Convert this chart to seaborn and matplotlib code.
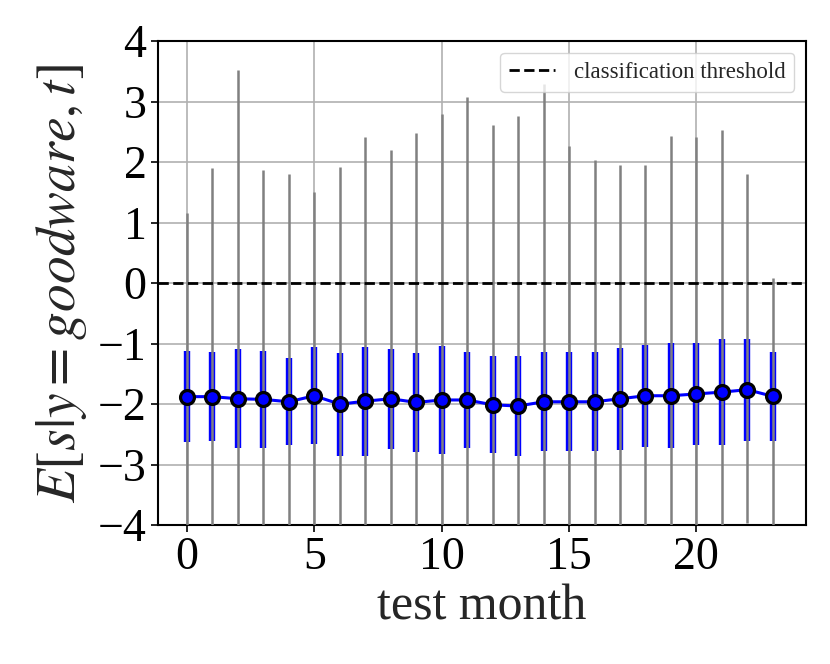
import numpy as np
import pandas as pd
import matplotlib
matplotlib.use("Agg")
import matplotlib.pyplot as plt
import seaborn as sns

# values
months = list(range(24))
score_mean = [-1.875, -1.875, -1.91, -1.92, -1.96, -1.86, -2.00, -1.95, -1.91, -1.97, -1.93, -1.93,
              -2.01, -2.03, -1.96, -1.96, -1.96, -1.91, -1.86, -1.86, -1.83, -1.80, -1.76, -1.87]
score_std = [0.755, 0.74, 0.82, 0.80, 0.72, 0.80, 0.85, 0.90, 0.83, 0.82, 0.89, 0.79,
             0.80, 0.83, 0.82, 0.82, 0.82, 0.84, 0.84, 0.87, 0.84, 0.88, 0.84, 0.73]
score_max = [1.16, 1.90, 3.52, 1.87, 1.81, 1.50, 1.92, 2.42, 2.20, 2.48, 2.79, 3.08,
             2.61, 2.76, 3.30, 2.26, 2.04, 1.96, 1.96, 2.43, 2.42, 2.53, 1.80, 0.09]
score_min = [-4.8, -4.8, -4.8, -4.8, -4.8, -4.8, -4.8, -4.8, -4.8, -4.8, -4.8, -4.8,
             -4.8, -4.8, -4.8, -4.8, -4.8, -4.8, -4.8, -4.8, -4.8, -4.8, -3.97, -4.8]
threshold = 0.0

df = pd.DataFrame({'month': months, 'mean': score_mean, 'std': score_std,
                   'max': score_max, 'min': score_min})

sns.set_theme(style="whitegrid", rc={
    'axes.edgecolor': 'black',
    'axes.linewidth': 1.5,
    'grid.color': '#b0b0b0',
    'grid.linewidth': 1.2,
    'xtick.bottom': True,
    'ytick.left': True,
    'xtick.color': 'black',
    'ytick.color': 'black',
})
plt.rcParams['font.family'] = ['Liberation Serif', 'DejaVu Serif']
plt.rcParams['mathtext.fontset'] = 'stix'

fig = plt.figure(figsize=(8.3, 6.64), dpi=100)
ax = fig.add_axes([0.190, 0.209, 0.781, 0.729])

ax.errorbar(df['month'], df['mean'], yerr=df['std'], fmt='none', ecolor='blue',
            elinewidth=4.6, capsize=0, zorder=2)
ax.vlines(df['month'], df['min'], df['max'], color='gray', linewidth=1.8, zorder=3)
sns.lineplot(data=df, x='month', y='mean', ax=ax, color='blue', linewidth=2.2,
             marker='o', markersize=10, markerfacecolor='blue', markeredgecolor='black',
             markeredgewidth=2.3, zorder=4)
ax.axhline(threshold, color='black', linestyle='--', linewidth=2,
           label='classification threshold', zorder=5)

ax.set_ylim(-4, 4)
ax.set_xlim(-1.15, 24.3)
ax.set_yticks(range(-4, 5))
ax.set_xticks([0, 5, 10, 15, 20])
ax.tick_params(axis='both', labelsize=33, length=5, width=1.2, pad=3)
ax.set_xlabel('test month', fontsize=36, labelpad=4)
ax.set_ylabel(r'$E[s|y=goodware, t]$', fontsize=40, labelpad=6)
ax.legend(loc='upper right', fontsize=16.5, frameon=True)

fig.savefig('out.png', dpi=100)
